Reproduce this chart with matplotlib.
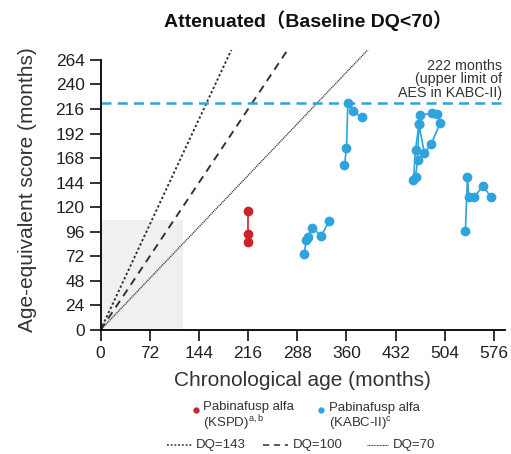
import numpy as np
import matplotlib
matplotlib.use("Agg")
import matplotlib.pyplot as plt
from matplotlib.lines import Line2D
from matplotlib.patches import Rectangle

plt.rcParams['font.family'] = ['Liberation Sans', 'Noto Sans CJK SC', 'DejaVu Sans']

# KSPD patient (red)
kspd_age = [216, 216, 216]
kspd_aes = [116, 94, 86]

# KABC-II patients (blue), one list per patient
kabc_age = [
    [298, 301, 303, 310, 323, 335],
    [357, 360, 362, 369, 383],
    [458, 461, 466, 468, 485, 493],
    [461, 464, 466, 474, 484, 497],
    [534, 537, 539, 547, 560, 571],
]
kabc_aes = [
    [74, 88, 91, 100, 92, 107],
    [161, 178, 222, 214, 208],
    [147, 176, 201, 210, 212, 211],
    [150, 166, 201, 173, 182, 202],
    [97, 150, 130, 130, 141, 130],
]

dq_values = [143, 100, 70]
dq_styles = [(0, (1.2, 1.2)), (0, (4, 3)), (0, (0.8, 0.6))]
dq_widths = [1.4, 1.4, 1.0]
aes_limit = 222
x_ticks = np.arange(0, 577, 72)
y_ticks = np.arange(0, 265, 24)

blue = '#2fa3dc'
red = '#cc2229'
dark = '#333333'

fig = plt.figure(figsize=(5.11, 4.54), dpi=100)
ax = fig.add_axes([0.1967, 0.2731, 0.7916, 0.6174])
ax.set_xlim(0, 592)
ax.set_ylim(0, 274)

ax.add_patch(Rectangle((0, 0), 120, 108, facecolor='#f0f0f3', edgecolor='none', zorder=0))

ages = np.array([0, 600])
for dq, ls, lw in zip(dq_values, dq_styles, dq_widths):
    ax.plot(ages, ages * dq / 100, color=dark, linestyle=ls, linewidth=lw, zorder=1)

ax.axhline(aes_limit, color=blue, linestyle=(0, (4, 2.5)), linewidth=1.8, zorder=1)
ax.text(588, 265, '222 months\n(upper limit of\nAES in KABC-II)', ha='right', va='top',
        fontsize=10.3, color='#333333', linespacing=0.95)

ax.plot(kspd_age, kspd_aes, color=red, marker='o', markersize=6, linewidth=1.2, zorder=3)
for xs, ys in zip(kabc_age, kabc_aes):
    ax.plot(xs, ys, color=blue, marker='o', markersize=6, linewidth=1.2, zorder=3)

ax.set_xticks(x_ticks)
ax.set_yticks(y_ticks)
ax.tick_params(direction='out', length=8, width=1.3, labelsize=12.5, colors='#222222')
for s in ['top', 'right']:
    ax.spines[s].set_visible(False)
for s in ['left', 'bottom']:
    ax.spines[s].set_linewidth(1.3)
ax.spines['left'].set_bounds(0, 264)

ax.set_xlabel('Chronological age (months)', fontsize=15, color='#333333', labelpad=7)
ax.set_ylabel('Age-equivalent score (months)', fontsize=15, color='#333333', labelpad=13)
fig.text(0.603, 0.955, 'Attenuated（Baseline DQ<70）', ha='center', va='center',
         fontsize=14, fontweight='bold', color='#111111')

# legend drawn in figure pixels
W, H = 511, 454
def fx(px):
    return px / W
def fy(py):
    return 1 - py / H

fig.add_artist(Line2D([fx(196)], [fy(410)], marker='o', color=red, markersize=3.5, linestyle='none'))
fig.text(fx(203), fy(417), 'Pabinafusp alfa\n(KSPD)$^{\\mathregular{a,b}}$', ha='left', va='center',
         fontsize=9.5, color='#333333', linespacing=1.1)
fig.add_artist(Line2D([fx(321)], [fy(410)], marker='o', color=blue, markersize=3.5, linestyle='none'))
fig.text(fx(329), fy(417), 'Pabinafusp alfa\n(KABC-II)$^{\\mathregular{c}}$', ha='left', va='center',
         fontsize=9.5, color='#333333', linespacing=1.1)

leg_x = [(167, 193, 196), (263, 288, 293), (367, 388, 393)]
for (x0, x1, xt), dq, ls, lw in zip(leg_x, dq_values, dq_styles, dq_widths):
    fig.add_artist(Line2D([fx(x0), fx(x1)], [fy(445), fy(445)], color=dark, linestyle=ls, linewidth=lw * 0.8))
    fig.text(fx(xt), fy(445), f'DQ={dq}', ha='left', va='center', fontsize=9.5, color='#333333')

fig.savefig('out.png', dpi=100)
